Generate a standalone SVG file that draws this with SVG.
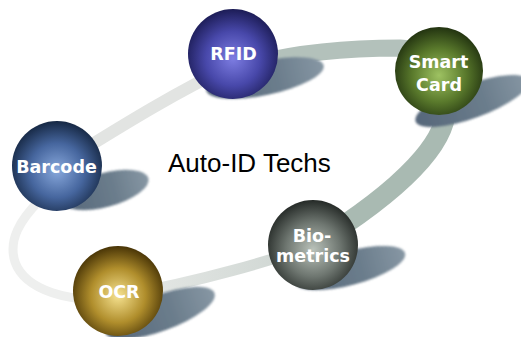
<svg xmlns="http://www.w3.org/2000/svg" width="521" height="337" viewBox="0 0 521 337">
  <style>
    .ring { fill: none; stroke-linecap: butt; }
    .lbl { font-family: "DejaVu Sans", Verdana, sans-serif; font-weight: bold; font-size: 17.5px; fill: #ffffff; text-anchor: middle; }
    .title { font-family: "Liberation Sans", Arial, sans-serif; font-size: 26px; fill: #000000; }
  </style>
  <defs>
    <linearGradient id="gShadow" x1="0" y1="0" x2="1" y2="0">
      <stop offset="0" stop-color="#56677a"/>
      <stop offset="0.6" stop-color="#6b7d8c"/>
      <stop offset="1" stop-color="#8797a4"/>
    </linearGradient>
    <linearGradient id="gSegE" gradientUnits="userSpaceOnUse" x1="313" y1="0" x2="118" y2="0">
      <stop offset="0" stop-color="#ccd4d0"/>
      <stop offset="1" stop-color="#e8eae8"/>
    </linearGradient>
    <filter id="soft" x="-10%" y="-30%" width="120%" height="160%">
      <feGaussianBlur stdDeviation="0.8"/>
    </filter>
    <radialGradient id="gRFID" cx="0.5" cy="0.55" r="0.55">
      <stop offset="0" stop-color="#7d7de2"/>
      <stop offset="0.55" stop-color="#4848aa"/>
      <stop offset="1" stop-color="#1c1c56"/>
    </radialGradient>
    <radialGradient id="gSmart" cx="0.5" cy="0.55" r="0.55">
      <stop offset="0" stop-color="#9ec262"/>
      <stop offset="0.55" stop-color="#5a7a2c"/>
      <stop offset="1" stop-color="#223310"/>
    </radialGradient>
    <radialGradient id="gBarcode" cx="0.5" cy="0.55" r="0.55">
      <stop offset="0" stop-color="#88a8dc"/>
      <stop offset="0.55" stop-color="#46669e"/>
      <stop offset="1" stop-color="#162844"/>
    </radialGradient>
    <radialGradient id="gBio" cx="0.5" cy="0.55" r="0.55">
      <stop offset="0" stop-color="#bac2ba"/>
      <stop offset="0.55" stop-color="#6e7670"/>
      <stop offset="1" stop-color="#252a27"/>
    </radialGradient>
    <radialGradient id="gOCR" cx="0.5" cy="0.55" r="0.55">
      <stop offset="0" stop-color="#f6e290"/>
      <stop offset="0.55" stop-color="#b08e2c"/>
      <stop offset="1" stop-color="#483406"/>
    </radialGradient>
  </defs>

  <rect width="521" height="337" fill="#ffffff"/>

  <g id="connectors">
    <path class="ring" d="M 118,298 C 70,304 25,290 15,262 C 8,240 20,220 40,200" stroke="#eeefee" stroke-width="9"/>
    <path class="ring" d="M 50,170 C 100,140 160,100 233,65" stroke="#e2e4e2" stroke-width="12"/>
    <path class="ring" d="M 233,70 C 270,58 320,48 400,48 L 445,52" stroke="#b3c1bb" stroke-width="17"/>
    <path class="ring" d="M 445,70 L 446,110 C 445,140 410,185 313,245" stroke="#a9bab2" stroke-width="20"/>
    <path class="ring" d="M 313,245 C 280,258 200,282 118,296" stroke="url(#gSegE)" stroke-width="11"/>
  </g>

  <g id="node-rfid">
    <ellipse cx="265" cy="78" rx="60" ry="17" transform="rotate(-12 265 78)" fill="url(#gShadow)" filter="url(#soft)"/>
    <circle cx="233" cy="54" r="45" fill="url(#gRFID)"/>
    <text class="lbl" x="233.5" y="60">RFID</text>
  </g>

  <g id="node-smartcard">
    <ellipse cx="472" cy="101" rx="60" ry="17" transform="rotate(-20 472 101)" fill="url(#gShadow)" filter="url(#soft)"/>
    <circle cx="439" cy="71" r="44" fill="url(#gSmart)"/>
    <text class="lbl" x="438.5" y="68">Smart</text>
    <text class="lbl" x="439" y="91">Card</text>
  </g>

  <g id="node-barcode">
    <ellipse cx="105" cy="190" rx="45" ry="17" transform="rotate(-15 105 190)" fill="url(#gShadow)" filter="url(#soft)"/>
    <circle cx="57" cy="166" r="45" fill="url(#gBarcode)"/>
    <text class="lbl" x="56.5" y="173">Barcode</text>
  </g>

  <g id="node-biometrics">
    <ellipse cx="350" cy="268" rx="57" ry="17" transform="rotate(-15 350 268)" fill="url(#gShadow)" filter="url(#soft)"/>
    <circle cx="313" cy="245" r="45" fill="url(#gBio)"/>
    <text class="lbl" x="312" y="242">Bio-</text>
    <text class="lbl" x="313" y="262">metrics</text>
  </g>

  <g id="node-ocr">
    <ellipse cx="160" cy="313" rx="58" ry="18" transform="rotate(-20 160 313)" fill="url(#gShadow)" filter="url(#soft)"/>
    <circle cx="118" cy="291" r="45" fill="url(#gOCR)"/>
    <text class="lbl" x="119" y="298">OCR</text>
  </g>

  <g id="title">
    <text class="title" x="168" y="172">Auto-ID Techs</text>
  </g>
</svg>
